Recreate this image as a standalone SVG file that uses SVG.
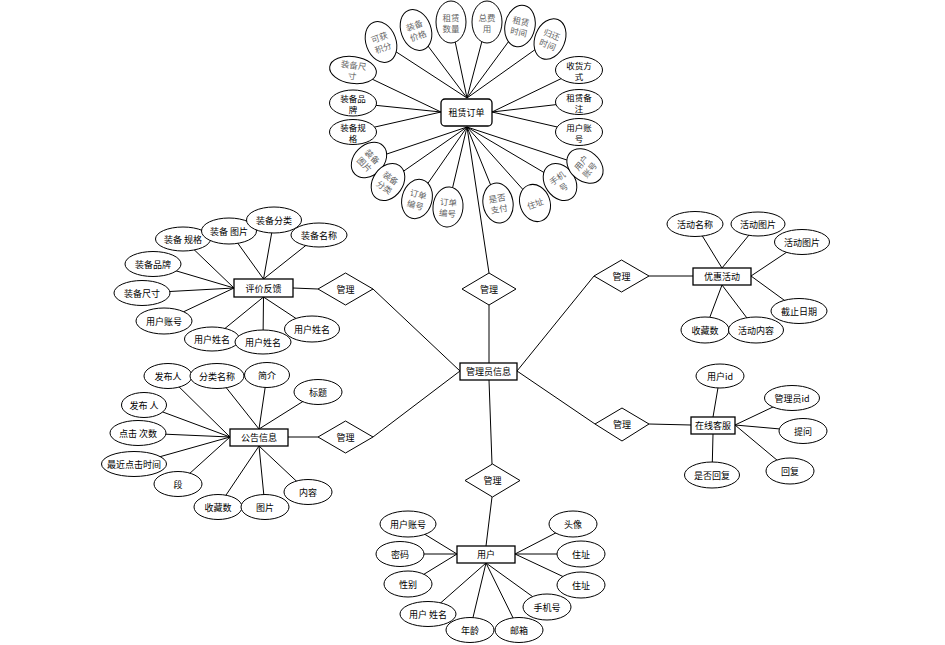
<svg xmlns="http://www.w3.org/2000/svg" width="945" height="645" viewBox="0 0 945 645">
<style>
.l{stroke:#000;stroke-width:1;fill:none}
.e{fill:#fff;stroke:#000;stroke-width:1}
.r{fill:#fff;stroke:#000;stroke-width:1.3}
.d{fill:#fff;stroke:#000;stroke-width:1}
text{font-family:"Noto Sans CJK SC","Liberation Sans",sans-serif;font-size:9px;fill:#000;text-anchor:middle;dominant-baseline:central}
.g{fill:#666;font-size:8.5px}
.b{font-size:8.5px}
</style>
<rect width="945" height="645" fill="#fff"/>
<g id="connectors">
<line class="l" x1="489" y1="305" x2="489" y2="363"/>
<line class="l" x1="373" y1="289" x2="460" y2="371"/>
<line class="l" x1="373" y1="437" x2="460" y2="371"/>
<line class="l" x1="594" y1="276" x2="517" y2="371"/>
<line class="l" x1="595" y1="424" x2="517" y2="371"/>
<line class="l" x1="489" y1="380" x2="492" y2="464"/>
<line class="l" x1="467" y1="127" x2="489" y2="273"/>
<line class="l" x1="492" y1="497" x2="486" y2="546"/>
<line class="l" x1="293" y1="288" x2="318" y2="289"/>
<line class="l" x1="288" y1="437" x2="318" y2="437"/>
<line class="l" x1="649" y1="276" x2="693" y2="276"/>
<line class="l" x1="649" y1="424" x2="691" y2="425"/>
<line class="l" x1="467" y1="98" x2="381" y2="42"/>
<line class="l" x1="467" y1="98" x2="416" y2="30"/>
<line class="l" x1="467" y1="98" x2="451" y2="22"/>
<line class="l" x1="467" y1="98" x2="487" y2="22"/>
<line class="l" x1="467" y1="98" x2="520" y2="26"/>
<line class="l" x1="467" y1="98" x2="550" y2="39"/>
<line class="l" x1="441" y1="112" x2="353" y2="70"/>
<line class="l" x1="441" y1="112" x2="353" y2="103"/>
<line class="l" x1="441" y1="112" x2="353" y2="132"/>
<line class="l" x1="492" y1="112" x2="579" y2="70"/>
<line class="l" x1="492" y1="112" x2="579" y2="102"/>
<line class="l" x1="492" y1="112" x2="579" y2="132"/>
<line class="l" x1="467" y1="127" x2="369" y2="160"/>
<line class="l" x1="467" y1="127" x2="388" y2="182"/>
<line class="l" x1="467" y1="127" x2="417" y2="199"/>
<line class="l" x1="467" y1="127" x2="448" y2="207"/>
<line class="l" x1="467" y1="127" x2="498" y2="203"/>
<line class="l" x1="467" y1="127" x2="535" y2="203"/>
<line class="l" x1="467" y1="127" x2="560" y2="182"/>
<line class="l" x1="467" y1="127" x2="585" y2="166"/>
<line class="l" x1="234" y1="288" x2="183" y2="239"/>
<line class="l" x1="263.5" y1="279" x2="229" y2="231"/>
<line class="l" x1="263.5" y1="279" x2="274" y2="220"/>
<line class="l" x1="263.5" y1="279" x2="319" y2="235"/>
<line class="l" x1="234" y1="288" x2="153" y2="264"/>
<line class="l" x1="234" y1="288" x2="142" y2="293"/>
<line class="l" x1="234" y1="288" x2="164" y2="321"/>
<line class="l" x1="263.5" y1="297" x2="212" y2="339"/>
<line class="l" x1="263.5" y1="297" x2="263" y2="342"/>
<line class="l" x1="263.5" y1="297" x2="312" y2="329"/>
<line class="l" x1="230" y1="437" x2="168" y2="376"/>
<line class="l" x1="259" y1="429" x2="217" y2="376"/>
<line class="l" x1="259" y1="429" x2="267" y2="375"/>
<line class="l" x1="259" y1="429" x2="318" y2="392"/>
<line class="l" x1="230" y1="437" x2="144" y2="405"/>
<line class="l" x1="230" y1="437" x2="138" y2="433"/>
<line class="l" x1="230" y1="437" x2="134" y2="464"/>
<line class="l" x1="230" y1="437" x2="178" y2="484"/>
<line class="l" x1="259" y1="446" x2="218" y2="507"/>
<line class="l" x1="259" y1="446" x2="265" y2="507"/>
<line class="l" x1="259" y1="446" x2="308" y2="492"/>
<line class="l" x1="722" y1="268" x2="695" y2="224"/>
<line class="l" x1="722" y1="268" x2="758" y2="224"/>
<line class="l" x1="751" y1="276" x2="802" y2="242"/>
<line class="l" x1="751" y1="276" x2="799" y2="311"/>
<line class="l" x1="722" y1="285" x2="705" y2="330"/>
<line class="l" x1="722" y1="285" x2="756" y2="330"/>
<line class="l" x1="713" y1="417" x2="720" y2="376"/>
<line class="l" x1="735" y1="425" x2="792" y2="398"/>
<line class="l" x1="735" y1="425" x2="803" y2="431"/>
<line class="l" x1="735" y1="425" x2="790" y2="471"/>
<line class="l" x1="713" y1="434" x2="712" y2="475"/>
<line class="l" x1="457" y1="554" x2="408" y2="524"/>
<line class="l" x1="457" y1="554" x2="400" y2="554"/>
<line class="l" x1="457" y1="554" x2="408" y2="584"/>
<line class="l" x1="486" y1="563" x2="428" y2="614"/>
<line class="l" x1="486" y1="563" x2="470" y2="630"/>
<line class="l" x1="486" y1="563" x2="519" y2="630"/>
<line class="l" x1="486" y1="563" x2="547" y2="607"/>
<line class="l" x1="515" y1="554" x2="573" y2="524"/>
<line class="l" x1="515" y1="554" x2="581" y2="554"/>
<line class="l" x1="515" y1="554" x2="581" y2="585"/>
</g>

<g id="rel-order"><polygon class="d" points="462,289 489,273 516,289 489,305"/><text x="489" y="289">管理</text></g>
<g id="rel-feedback"><polygon class="d" points="318,289 345.5,273 373,289 345.5,305"/><text x="345.5" y="289">管理</text></g>
<g id="rel-notice"><polygon class="d" points="318,437 345.5,421 373,437 345.5,453"/><text x="345.5" y="437">管理</text></g>
<g id="rel-promo"><polygon class="d" points="594,276 621.5,260 649,276 621.5,292"/><text x="621.5" y="276">管理</text></g>
<g id="rel-service"><polygon class="d" points="595,424 622,408 649,424 622,441"/><text x="622" y="424">管理</text></g>
<g id="rel-user"><polygon class="d" points="465,480.5 492.5,464 520,480.5 492.5,497"/><text x="492.5" y="480.5">管理</text></g>

<g id="admin"><rect class="r" x="460" y="363" width="57" height="17"/><text x="488.5" y="371.5">管理员信息</text></g>
<g id="order"><rect class="r" x="441" y="99" width="51" height="27" rx="4"/><text x="466.5" y="112.5">租赁订单</text></g>
<g id="feedback"><rect class="r" x="234" y="279" width="59" height="18"/><text x="263.5" y="288">评价反馈</text></g>
<g id="notice"><rect class="r" x="230" y="429" width="58" height="17"/><text x="259" y="437.5">公告信息</text></g>
<g id="promo"><rect class="r" x="693" y="268" width="58" height="17"/><text x="722" y="276.5">优惠活动</text></g>
<g id="service"><rect class="r" x="691" y="417" width="44" height="17"/><text x="713" y="425.5">在线客服</text></g>
<g id="user"><rect class="r" x="457" y="546" width="58" height="17"/><text x="486" y="554.5">用户</text></g>

<g id="o1" transform="translate(381,42) rotate(-20)"><ellipse class="e" rx="15" ry="21"/><text class="g" y="-5.5">可获</text><text class="g" y="5.5">积分</text></g>
<g id="o2" transform="translate(416,30) rotate(-20)"><ellipse class="e" rx="15" ry="21"/><text class="g" y="-5.5">装备</text><text class="g" y="5.5">价格</text></g>
<g id="o3" transform="translate(451,22)"><ellipse class="e" rx="15" ry="21"/><text class="g" y="-5.5">租赁</text><text class="g" y="5.5">数量</text></g>
<g id="o4" transform="translate(487,22)"><ellipse class="e" rx="15" ry="21"/><text class="g" y="-5.5">总费</text><text class="g" y="5.5">用</text></g>
<g id="o5" transform="translate(520,26) rotate(12)"><ellipse class="e" rx="15" ry="21"/><text class="g" y="-5.5">租赁</text><text class="g" y="5.5">时间</text></g>
<g id="o6" transform="translate(550,39) rotate(22)"><ellipse class="e" rx="15" ry="21"/><text class="g" y="-5.5">归还</text><text class="g" y="5.5">时间</text></g>
<g id="o7" transform="translate(353,70) rotate(8)"><ellipse class="e" rx="23.5" ry="13.5"/><text class="g" y="-5.5">装备尺</text><text class="g" y="5.5">寸</text></g>
<g id="o8" transform="translate(353,103)"><ellipse class="e" rx="23.5" ry="13"/><text class="b" y="-5.5">装备品</text><text class="b" y="5.5">牌</text></g>
<g id="o9" transform="translate(353,132)"><ellipse class="e" rx="23.5" ry="12.5"/><text class="b" y="-5.5">装备规</text><text class="b" y="5.5">格</text></g>
<g id="o10" transform="translate(579,70)"><ellipse class="e" rx="23.5" ry="13.5"/><text class="b" y="-5.5" fill="#333">收货方</text><text class="b" y="5.5">式</text></g>
<g id="o11" transform="translate(579,102)"><ellipse class="e" rx="23.5" ry="12.5"/><text class="b" y="-5.5">租赁备</text><text class="b" y="5.5">注</text></g>
<g id="o12" transform="translate(579,132)"><ellipse class="e" rx="23.5" ry="13.5"/><text class="b" y="-5.5">用户账</text><text class="b" y="5.5">号</text></g>
<g id="o13" transform="translate(369,160) rotate(45)"><ellipse class="e" rx="15" ry="20"/><text class="g" y="-5.5">装备</text><text class="g" y="5.5">图片</text></g>
<g id="o14" transform="translate(388,182) rotate(35)"><ellipse class="e" rx="15" ry="20"/><text class="g" y="-5.5">装备</text><text class="g" y="5.5">分类</text></g>
<g id="o15" transform="translate(417,199) rotate(15)"><ellipse class="e" rx="15" ry="20"/><text class="g" y="-5.5">订单</text><text class="g" y="5.5">编号</text></g>
<g id="o16" transform="translate(448,207) rotate(5)"><ellipse class="e" rx="15" ry="20"/><text class="g" y="-5.5">订单</text><text class="g" y="5.5">编号</text></g>
<g id="o17" transform="translate(498,203) rotate(-10)"><ellipse class="e" rx="15" ry="20"/><text class="g" y="-5.5">是否</text><text class="g" y="5.5">支付</text></g>
<g id="o18" transform="translate(535,203) rotate(-20)"><ellipse class="e" rx="15" ry="19"/><text class="g" y="0">住址</text></g>
<g id="o19" transform="translate(560,182) rotate(-35)"><ellipse class="e" rx="15" ry="20"/><text class="g" y="-5.5">手机</text><text class="g" y="5.5">号</text></g>
<g id="o20" transform="translate(585,166) rotate(-50)"><ellipse class="e" rx="15" ry="20"/><text class="g" y="-5.5">用户</text><text class="g" y="5.5">账号</text></g>

<g id="f1"><ellipse class="e" cx="183" cy="239" rx="27.5" ry="12"/><text x="183" y="239">装备 规格</text></g>
<g id="f2"><ellipse class="e" cx="229" cy="231" rx="27.5" ry="13"/><text x="229" y="231">装备 图片</text></g>
<g id="f3"><ellipse class="e" cx="274" cy="220" rx="27.5" ry="13"/><text x="274" y="220">装备分类</text></g>
<g id="f4"><ellipse class="e" cx="319" cy="235" rx="28" ry="12"/><text x="319" y="235">装备名称</text></g>
<g id="f5"><ellipse class="e" cx="153" cy="264" rx="28" ry="12.5"/><text x="153" y="264">装备品牌</text></g>
<g id="f6"><ellipse class="e" cx="142" cy="293" rx="28" ry="12.5"/><text x="142" y="293">装备尺寸</text></g>
<g id="f7"><ellipse class="e" cx="164" cy="321" rx="28" ry="13"/><text x="164" y="321">用户账号</text></g>
<g id="f8"><ellipse class="e" cx="212" cy="339" rx="27.5" ry="12"/><text x="212" y="339">用户姓名</text></g>
<g id="f9"><ellipse class="e" cx="263" cy="342" rx="28" ry="12"/><text x="263" y="342">用户姓名</text></g>
<g id="f10"><ellipse class="e" cx="312" cy="329" rx="27.5" ry="13"/><text x="312" y="329">用户姓名</text></g>

<g id="n1"><ellipse class="e" cx="168" cy="376" rx="24" ry="12.5"/><text x="168" y="376">发布人</text></g>
<g id="n2"><ellipse class="e" cx="217" cy="376" rx="27" ry="12.5"/><text x="217" y="376">分类名称</text></g>
<g id="n3"><ellipse class="e" cx="267" cy="375" rx="22.5" ry="12.5"/><text x="267" y="375">简介</text></g>
<g id="n4"><ellipse class="e" cx="318" cy="392" rx="24" ry="12.5"/><text x="318" y="392">标题</text></g>
<g id="n5"><ellipse class="e" cx="144" cy="405" rx="22.5" ry="12.5"/><text x="144" y="405">发布 人</text></g>
<g id="n6"><ellipse class="e" cx="138" cy="433" rx="28" ry="12.5"/><text x="138" y="433">点击 次数</text></g>
<g id="n7"><ellipse class="e" cx="134" cy="464" rx="32.5" ry="12.5"/><text x="134" y="464">最近点击时间</text></g>
<g id="n8"><ellipse class="e" cx="178" cy="484" rx="24" ry="12.5"/><text x="178" y="484">段</text></g>
<g id="n9"><ellipse class="e" cx="218" cy="507" rx="24" ry="12.5"/><text x="218" y="507">收藏数</text></g>
<g id="n10"><ellipse class="e" cx="265" cy="507" rx="24" ry="12.5"/><text x="265" y="507">图片</text></g>
<g id="n11"><ellipse class="e" cx="308" cy="492" rx="24" ry="12.5"/><text x="308" y="492">内容</text></g>

<g id="p1"><ellipse class="e" cx="695" cy="224" rx="28" ry="12.5"/><text x="695" y="224">活动名称</text></g>
<g id="p2"><ellipse class="e" cx="758" cy="224" rx="27" ry="12"/><text x="758" y="224">活动图片</text></g>
<g id="p3"><ellipse class="e" cx="802" cy="242" rx="27.5" ry="12.5"/><text x="802" y="242">活动图片</text></g>
<g id="p4"><ellipse class="e" cx="799" cy="311" rx="28" ry="12.5"/><text x="799" y="311">截止日期</text></g>
<g id="p5"><ellipse class="e" cx="705" cy="330" rx="24" ry="13"/><text x="705" y="330">收藏数</text></g>
<g id="p6"><ellipse class="e" cx="756" cy="330" rx="27.5" ry="13"/><text x="756" y="330">活动内容</text></g>

<g id="s1"><ellipse class="e" cx="720" cy="376" rx="24" ry="12"/><text x="720" y="376">用户id</text></g>
<g id="s2"><ellipse class="e" cx="792" cy="398" rx="27.5" ry="12.5"/><text x="792" y="398">管理员id</text></g>
<g id="s3"><ellipse class="e" cx="803" cy="431" rx="24" ry="12.5"/><text x="803" y="431">提问</text></g>
<g id="s4"><ellipse class="e" cx="790" cy="471" rx="24" ry="13"/><text x="790" y="471">回复</text></g>
<g id="s5"><ellipse class="e" cx="712" cy="475" rx="27.5" ry="13"/><text x="712" y="475">是否回复</text></g>

<g id="u1"><ellipse class="e" cx="408" cy="524" rx="28" ry="13"/><text x="408" y="524">用户账号</text></g>
<g id="u2"><ellipse class="e" cx="400" cy="554" rx="24" ry="12.5"/><text x="400" y="554">密码</text></g>
<g id="u3"><ellipse class="e" cx="408" cy="584" rx="24" ry="13"/><text x="408" y="584">性别</text></g>
<g id="u4"><ellipse class="e" cx="428" cy="614" rx="28" ry="12.5"/><text x="428" y="614">用户 姓名</text></g>
<g id="u5"><ellipse class="e" cx="470" cy="630" rx="24" ry="12.5"/><text x="470" y="630">年龄</text></g>
<g id="u6"><ellipse class="e" cx="519" cy="630" rx="24" ry="12.5"/><text x="519" y="630">邮箱</text></g>
<g id="u7"><ellipse class="e" cx="547" cy="607" rx="24" ry="13"/><text x="547" y="607">手机号</text></g>
<g id="u8"><ellipse class="e" cx="573" cy="524" rx="24" ry="13"/><text x="573" y="524">头像</text></g>
<g id="u9"><ellipse class="e" cx="581" cy="554" rx="24" ry="13"/><text x="581" y="554">住址</text></g>
<g id="u10"><ellipse class="e" cx="581" cy="585" rx="24" ry="13"/><text x="581" y="585">住址</text></g>
</svg>
